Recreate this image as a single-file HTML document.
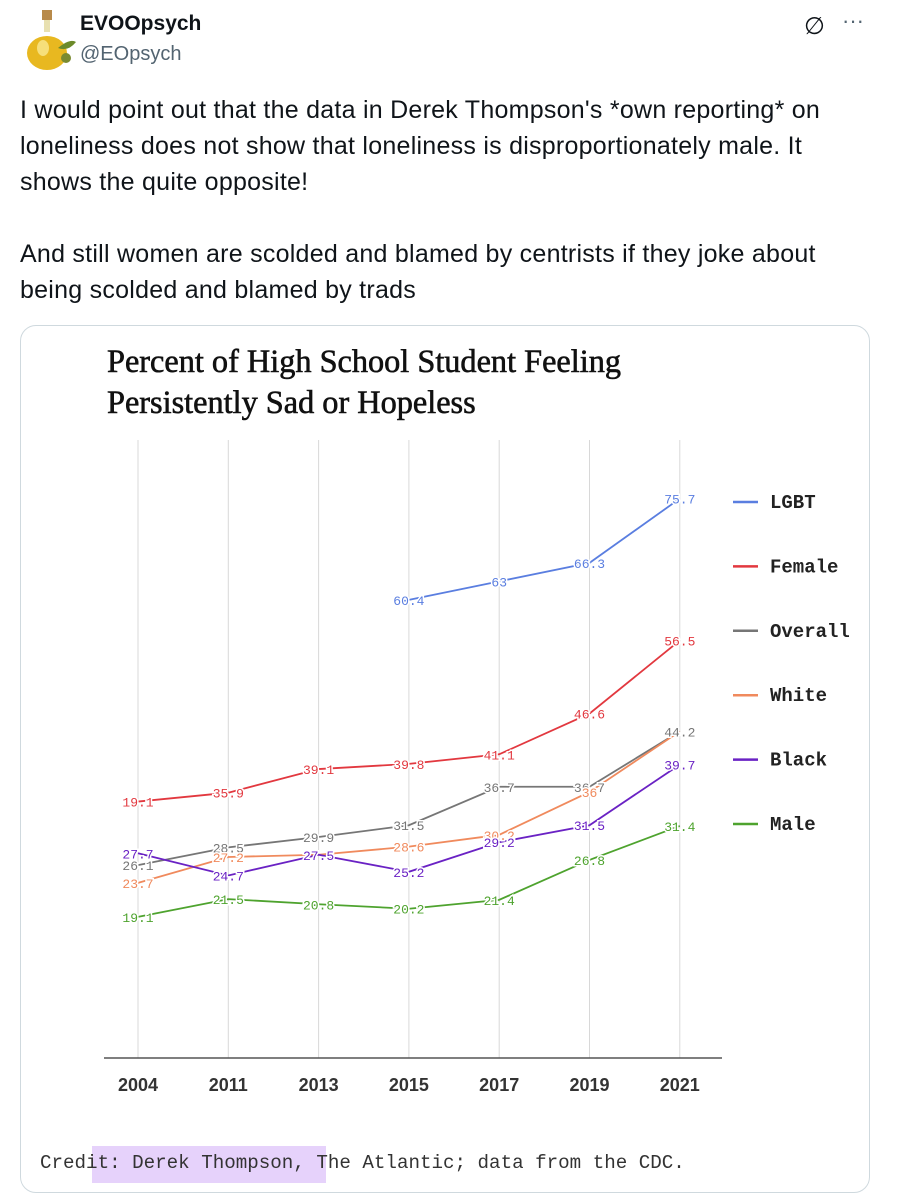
<!DOCTYPE html>
<html><head><meta charset="utf-8"><style>
body{margin:0;width:904px;height:1196px;background:#fff;font-family:"Liberation Sans",sans-serif;position:relative;overflow:hidden}
.abs{position:absolute}
.txt{left:20px;font-size:25px;letter-spacing:0.25px;color:#0f1419;line-height:36px;white-space:nowrap}
</style></head><body>
<div class="abs" style="left:18px;top:8px;width:60px;height:64px">
<svg width="60" height="64"><rect x="24" y="2" width="10" height="10" fill="#b88a4a"/><rect x="26" y="12" width="6" height="12" fill="#e8e0b0"/><ellipse cx="29" cy="45" rx="20" ry="17" fill="#e8b820"/><ellipse cx="25" cy="40" rx="6" ry="8" fill="#f6df7a"/><path d="M40 40 Q52 30 58 34 Q50 44 40 40" fill="#6c8a2a"/><circle cx="48" cy="50" r="5" fill="#7a8a30"/></svg></div>
<div class="abs" style="left:80px;top:12px;font-weight:bold;font-size:21px;color:#0f1419">EVOOpsych</div>
<div class="abs" style="left:80px;top:43px;font-size:20px;color:#536471">@EOpsych</div>
<div class="abs" style="left:804px;top:12px;font-size:24px;color:#0f1419">∅</div>
<div class="abs" style="left:842px;top:8px;font-size:22px;color:#536471">···</div>
<div class="abs txt" style="top:92px">I would point out that the data in Derek Thompson's *own reporting* on<br>loneliness does not show that loneliness is disproportionately male. It<br>shows the quite opposite!<br><br>And still women are scolded and blamed by centrists if they joke about<br>being scolded and blamed by trads</div>
<div class="abs" style="left:20px;top:325px;width:848px;height:866px;border:1px solid #cfd9de;border-radius:16px"></div>
<div class="abs" style="left:107px;top:341px;font-family:'Liberation Serif',serif;font-size:32.3px;-webkit-text-stroke:0.6px #111;line-height:41px;color:#111;white-space:nowrap">Percent of High School Student Feeling<br>Persistently Sad or Hopeless</div>
<div class="abs" style="left:92px;top:1146px;width:234px;height:37px;background:#e6d2fb"></div>
<div class="abs" style="left:40px;top:1152px;font-family:'Liberation Mono',monospace;font-size:19.2px;color:#333;white-space:nowrap">Credit: Derek Thompson, The Atlantic; data from the CDC.</div>
<svg class="abs" style="left:0;top:0" width="904" height="1196" id="chart"></svg>
<script>
const years=["2004","2011","2013","2015","2017","2019","2021"];
const seriesNames=["LGBT","Female","Overall","White","Black","Male"];
const colors=["#5a7ee0","#e2383f","#767676","#f08a5d","#6a22c4","#4ea32e"];
const lgbt=[null,null,null,62,64.5,67,75.7];
const female=[34.7,35.9,39.1,39.8,41.1,46.6,56.5];
const overall=[26.1,28.5,29.9,31.5,36.7,36.7,44.2];
const white=[23.7,27.2,27.5,28.6,30.2,36,44.2];
const black=[27.7,24.7,27.5,25.2,29.2,31.5,39.7];
const male=[19.1,21.5,20.8,20.2,21.4,26.8,31.4];
const lgbtLabels=[null,null,null,"60.4","63","66.3","75.7"];
const femaleLabels=["19.1","35.9","39.1","39.8","41.1","46.6","56.5"];
const overallLabels=["26.1","28.5","29.9","31.5","36.7","36.7","44.2"];
const whiteLabels=["23.7","27.2",null,"28.6","30.2","36",null];
const blackLabels=["27.7","24.7","27.5","25.2","29.2","31.5","39.7"];
const maleLabels=["19.1","21.5","20.8","20.2","21.4","26.8","31.4"];
const allVals=[lgbt,female,overall,white,black,male];
const allLabels=[lgbtLabels,femaleLabels,overallLabels,whiteLabels,blackLabels,maleLabels];
const NS="http://www.w3.org/2000/svg";
const svg=document.getElementById('chart');
const x=i=>138+i*90.3;
const y=v=>1058-v*7.39;
function mk(t,a){const e=document.createElementNS(NS,t);for(const k in a)e.setAttribute(k,a[k]);svg.appendChild(e);return e;}
years.forEach((yr,i)=>{
 const g=mk('line',{x1:x(i),x2:x(i),y1:440,y2:1058,stroke:'#d8d8d8','stroke-width':1});
 
 
 const t=mk('text',{x:x(i),y:1091,'text-anchor':'middle','font-size':18,'font-weight':'bold','font-family':'Liberation Sans,sans-serif',fill:'#333'});
 t.textContent=yr;
 
 
});
const ax=mk('line',{x1:104,x2:722,y1:1058,y2:1058,stroke:'#555','stroke-width':1.5});


allVals.forEach((vals,s)=>{
 let d='';vals.forEach((v,i)=>{if(v==null)return;d+=(d?'L':'M')+x(i)+' '+y(v);});
 const p=mk('path',{d:d,fill:'none',stroke:colors[s],'stroke-width':1.8});
 
 
});
allVals.forEach((vals,s)=>{
 vals.forEach((v,i)=>{const lb=allLabels[s][i];if(lb==null)return;
  const t=mk('text',{x:x(i),y:y(v)+5,'text-anchor':'middle','font-size':13,'font-family':'Liberation Mono,monospace',fill:colors[s],stroke:'#fff','stroke-width':3,'paint-order':'stroke'});
  t.textContent=lb;
  
  
 });
});
seriesNames.forEach((n,s)=>{
 const yy=502+s*64.4;
 const l=mk('line',{x1:733,x2:758,y1:yy,y2:yy,stroke:colors[s],'stroke-width':2.5});
 
 
 const t=mk('text',{x:770,y:yy+6,'font-size':19,'font-weight':'bold','font-family':'Liberation Mono,monospace',fill:'#222'});
 t.textContent=n;
 
 
});
</script>
</body></html>
